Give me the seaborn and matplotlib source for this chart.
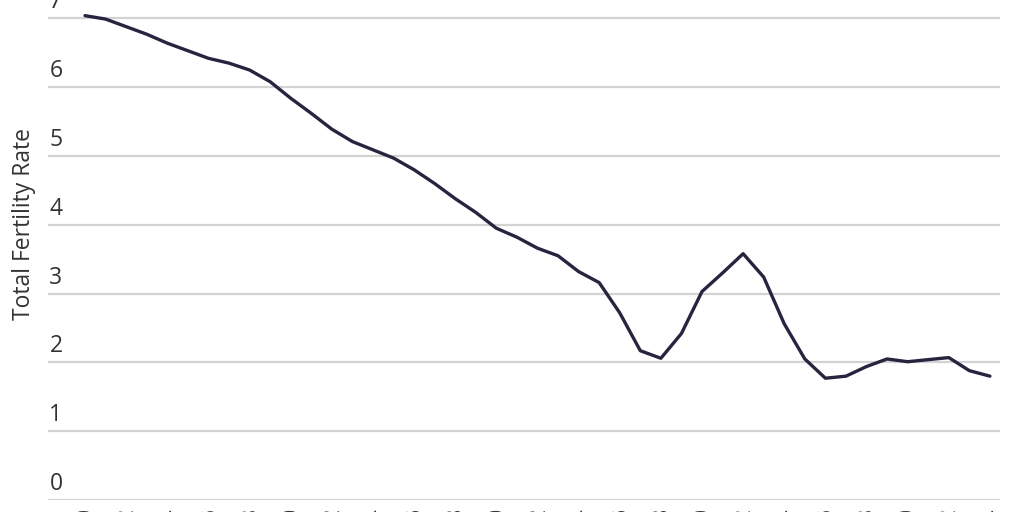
import numpy as np
import pandas as pd
import matplotlib
matplotlib.use("Agg")
import matplotlib.pyplot as plt
import matplotlib.transforms as mtransforms
import seaborn as sns

# Data
years = list(range(1970, 2015))
tfr = [7.04, 6.99, 6.88, 6.77, 6.64, 6.53, 6.42, 6.35, 6.25, 6.08,
       5.84, 5.62, 5.39, 5.21, 5.09, 4.97, 4.80, 4.60, 4.38, 4.18,
       3.95, 3.82, 3.66, 3.55, 3.32, 3.16, 2.72, 2.17, 2.06, 2.42,
       3.03, 3.30, 3.58, 3.24, 2.56, 2.05, 1.77, 1.80, 1.94, 2.05,
       2.01, 2.04, 2.07, 1.88, 1.80]
y_ticks = [0, 1, 2, 3, 4, 5, 6, 7]
y_label = "Total Fertility Rate"

df = pd.DataFrame({"idx": np.arange(len(years)), "tfr": tfr})

sns.set_theme(style="white")
plt.rcParams['font.family'] = ['Open Sans', 'DejaVu Sans']

fig = plt.figure(figsize=(10.24, 5.12), dpi=100)
ymax = 7.2
px_per_unit = 68.8
bottom = 12 / 512
height = ymax * px_per_unit / 512
ax = fig.add_axes([48 / 1024, bottom, 952 / 1024, height])

sns.lineplot(data=df, x="idx", y="tfr", ax=ax, color="#272440", linewidth=2.4)

ax.set_xlim(-1.8, 44.49)
ax.set_ylim(0, ymax)
ax.set_yticks(y_ticks)
ax.set_yticklabels([str(t) for t in y_ticks])
ax.yaxis.grid(True, color="#d3d3d3", linewidth=1.6)
ax.xaxis.grid(False)
for s in ax.spines.values():
    s.set_visible(False)

ax.tick_params(axis="y", length=0, pad=-1, labelsize=16.5, labelcolor="#333333")
offset = mtransforms.ScaledTranslation(0, 4 / 100, fig.dpi_scale_trans)
for lab in ax.get_yticklabels():
    lab.set_horizontalalignment("left")
    lab.set_verticalalignment("bottom")
    lab.set_transform(lab.get_transform() + offset)

xt = list(range(0, len(years), 2))
ax.set_xticks(xt)
ax.set_xticklabels([str(years[i]) for i in xt], rotation=90,
                   family=['Liberation Sans', 'DejaVu Sans'])
ax.tick_params(axis="x", length=0, pad=5.3, labelsize=16.5, labelcolor="#333333")

ax.set_xlabel("")
ax.set_ylabel(y_label, fontsize=16.5, color="#333333")
ax.yaxis.set_label_coords(-12 / 952, 1 - 223.5 / 512,
                          transform=mtransforms.blended_transform_factory(ax.transAxes, fig.transFigure))

fig.savefig("out.png", dpi=100)
